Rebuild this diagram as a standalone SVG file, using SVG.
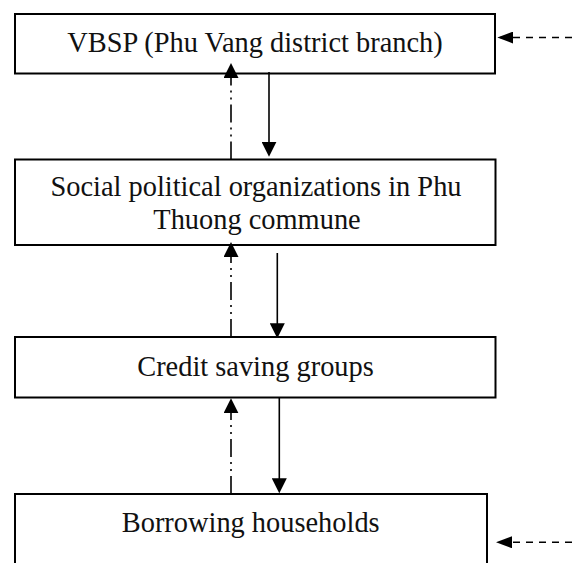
<svg xmlns="http://www.w3.org/2000/svg" width="572" height="563" viewBox="0 0 572 563">
  <style>
    .box { fill: #ffffff; stroke: #000000; stroke-width: 2; }
    .lbl { font-family: "Liberation Serif", "Times New Roman", serif; font-size: 28.4px; fill: #111111; text-anchor: middle; }
    .solid { fill: none; stroke: #000000; stroke-width: 1.6; marker-end: url(#headV); }
    .dashdot { fill: none; stroke: #000000; stroke-width: 1.6; stroke-dasharray: 18 5 2 5 2 5; marker-end: url(#headV); }
    .dashed { fill: none; stroke: #000000; stroke-width: 1.6; stroke-dasharray: 7 6; marker-end: url(#headH); }
  </style>
  <defs>
    <marker id="headV" markerUnits="userSpaceOnUse" viewBox="0 0 15 15" refX="12" refY="7.5" markerWidth="15" markerHeight="15" orient="auto">
      <path d="M0,0 L15,7.5 L0,15 Z" fill="#000000"/>
    </marker>
    <marker id="headH" markerUnits="userSpaceOnUse" viewBox="0 0 16 12" refX="13" refY="6" markerWidth="16" markerHeight="12" orient="auto">
      <path d="M0,0 L16,6 L0,12 Z" fill="#000000"/>
    </marker>
  </defs>

  <g id="node-vbsp">
    <rect class="box" x="15" y="14" width="480" height="59.5"/>
    <text class="lbl" x="255" y="52">VBSP (Phu Vang district branch)</text>
  </g>

  <g id="node-spo">
    <rect class="box" x="15" y="159.5" width="480.5" height="85.5"/>
    <text class="lbl" x="256" y="195.7">Social political organizations in Phu</text>
    <text class="lbl" x="257" y="229">Thuong commune</text>
  </g>

  <g id="node-csg">
    <rect class="box" x="15" y="337" width="480.5" height="60.5"/>
    <text class="lbl" x="255.5" y="375.7">Credit saving groups</text>
  </g>

  <g id="node-bh">
    <rect class="box" x="15" y="494" width="472" height="110"/>
    <text class="lbl" x="250.7" y="531.7">Borrowing households</text>
  </g>

  <g id="connectors">
    <!-- solid downward flows -->
    <path class="solid" d="M269,72 L269,153.7"/>
    <path class="solid" d="M277.3,253 L277.3,335.3"/>
    <path class="solid" d="M279.3,397.5 L279.3,490.3"/>
    <!-- dash-dot upward flows -->
    <path class="dashdot" d="M231,159.5 L231,66"/>
    <path class="dashdot" d="M231,337 L231,245"/>
    <path class="dashdot" d="M231,494 L231,401.3"/>
    <!-- dashed arrows from the right -->
    <path class="dashed" d="M572,37.5 L500.3,37.5"/>
    <path class="dashed" d="M572,542.3 L499,542.3"/>
  </g>
</svg>
